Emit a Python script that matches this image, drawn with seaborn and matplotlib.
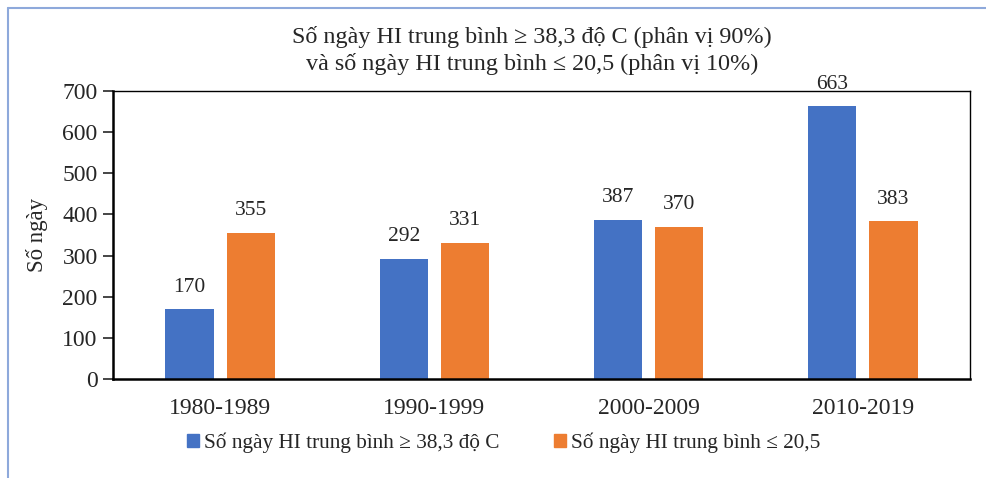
import numpy as np
import pandas as pd
import matplotlib
matplotlib.use('Agg')
import matplotlib.pyplot as plt
import seaborn as sns
from matplotlib.lines import Line2D

# data
periods = ['1980-1989', '1990-1999', '2000-2009', '2010-2019']
hot_days = [170, 292, 387, 663]
cold_days = [355, 331, 370, 383]
series_names = ['Số ngày HI trung bình ≥ 38,3 độ C', 'Số ngày HI trung bình ≤ 20,5']
colors = ['#4472C4', '#ED7D31']

df = pd.DataFrame({
    'period': periods * 2,
    'days': hot_days + cold_days,
    'series': [series_names[0]] * len(periods) + [series_names[1]] * len(periods),
})

sns.set_style('white')
plt.rcParams['font.family'] = ['Liberation Serif', 'DejaVu Serif']

fig = plt.figure(figsize=(9.87, 4.78), dpi=100)
ax = fig.add_axes([113/987, 1 - 379/478, (970-113)/987, (379-91)/478])

sns.barplot(data=df, x='period', y='days', hue='series', palette=colors,
            width=0.57, gap=0.21, ax=ax, legend=False, saturation=1, linewidth=0)

for c in ax.containers:
    ax.bar_label(c, padding=9, fontsize=15.5)

ax.set_xlim(-0.5, 3.5)
ax.set_ylim(0, 700)
ax.set_yticks(range(0, 701, 100))
ax.tick_params(axis='y', labelsize=17, length=7, width=1.2, direction='out', left=True, pad=4)
ax.tick_params(axis='x', labelsize=17, length=0, pad=14)
ax.set_xlabel('')
ax.set_ylabel('Số ngày', fontsize=16.5, labelpad=10)
for s in ['top', 'right']:
    ax.spines[s].set_linewidth(1.0)
    ax.spines[s].set_color('black')
for s in ['left', 'bottom']:
    ax.spines[s].set_linewidth(1.8)
    ax.spines[s].set_color('black')

fig.text(532/987, 1 - 37/478, 'Số ngày HI trung bình ≥ 38,3 độ C (phân vị 90%)',
         ha='center', va='center', fontsize=17.4)
fig.text(532/987, 1 - 64/478, 'và số ngày HI trung bình ≤ 20,5 (phân vị 10%)',
         ha='center', va='center', fontsize=17.4)

handles = [plt.Rectangle((0, 0), 1, 1, color=c) for c in colors]
fig.legend(handles, series_names, loc='center', bbox_to_anchor=(504/987, 1 - 443/478),
           ncol=2, frameon=False, fontsize=15.3, handlelength=0.55, handleheight=0.55,
           handletextpad=0.25, columnspacing=2.55, borderpad=0, borderaxespad=0)

# outer frame lines
fig.add_artist(Line2D([8/987, 8/987], [0, 1 - 8/478], color='#8EA9DB', lw=1.5))
fig.add_artist(Line2D([8/987, 1], [1 - 8/478, 1 - 8/478], color='#8EA9DB', lw=1.5))

fig.savefig('out.png', dpi=100)
